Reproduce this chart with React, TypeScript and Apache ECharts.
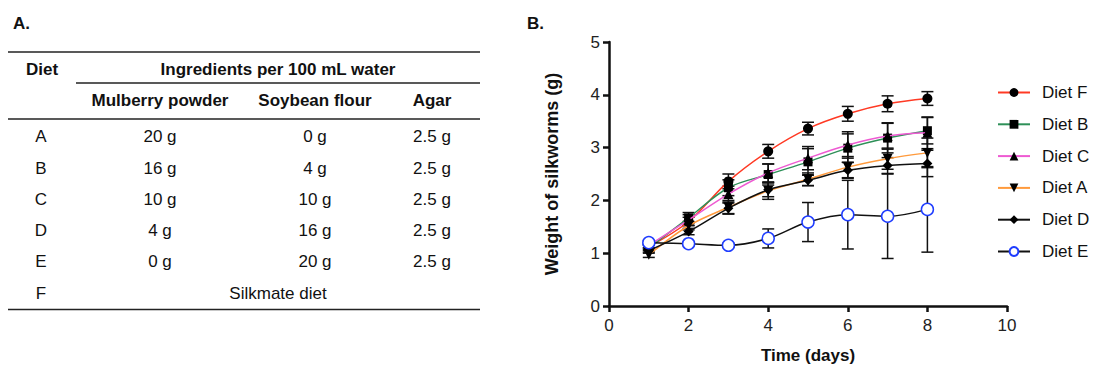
import React, { useEffect, useRef } from "react";
import * as echarts from "echarts";

// ---------- Table data (panel A) ----------
const tableDiets = ["A", "B", "C", "D", "E", "F"];
const mulberryPowder = ["20 g", "16 g", "10 g", "4 g", "0 g"];
const soybeanFlour = ["0 g", "4 g", "10 g", "16 g", "20 g"];
const agar = ["2.5 g", "2.5 g", "2.5 g", "2.5 g", "2.5 g"];
const dietFText = "Silkmate diet";
const subHeaders = ["Mulberry powder", "Soybean flour", "Agar"];

// ---------- Chart data (panel B) ----------
const days = [1, 2, 3, 4, 5, 6, 7, 8];
const xTicks = [0, 2, 4, 6, 8, 10];
const yTicks = [0, 1, 2, 3, 4, 5];

const dietF = [1.12, 1.6, 2.36, 2.93, 3.36, 3.64, 3.83, 3.93];
const errF = [0.05, 0.08, 0.14, 0.13, 0.12, 0.14, 0.15, 0.13];
const dietB = [1.1, 1.67, 2.24, 2.49, 2.73, 2.99, 3.18, 3.32];
const errB = [0.05, 0.1, 0.15, 0.2, 0.25, 0.27, 0.28, 0.25];
const dietC = [1.15, 1.63, 2.12, 2.52, 2.8, 3.05, 3.22, 3.28];
const errC = [0.05, 0.1, 0.15, 0.17, 0.22, 0.25, 0.25, 0.3];
const dietA = [0.97, 1.52, 1.87, 2.18, 2.4, 2.63, 2.79, 2.9];
const errA = [0.05, 0.08, 0.13, 0.16, 0.12, 0.2, 0.2, 0.28];
const dietD = [1.05, 1.41, 1.85, 2.2, 2.38, 2.57, 2.66, 2.7];
const errD = [0.05, 0.06, 0.1, 0.13, 0.1, 0.15, 0.15, 0.25];
const dietE = [1.2, 1.18, 1.15, 1.28, 1.59, 1.73, 1.7, 1.83];
const errE = [0.04, 0.04, 0.04, 0.18, 0.37, 0.65, 0.8, 0.81];

const seriesNames = ["Diet F", "Diet B", "Diet C", "Diet A", "Diet D", "Diet E"];
const seriesValues = [dietF, dietB, dietC, dietA, dietD, dietE];
const seriesErrors = [errF, errB, errC, errA, errD, errE];

// styles (kept separate from data)
const styles = [
  { line: "#ff3a24", symbol: "circle", size: 10, rotate: 0, fill: "#000", border: "#000", bw: 0 },
  { line: "#2e9058", symbol: "rect", size: 9, rotate: 0, fill: "#000", border: "#000", bw: 0 },
  { line: "#ee5ad2", symbol: "triangle", size: 10, rotate: 0, fill: "#000", border: "#000", bw: 0 },
  { line: "#ff9a3c", symbol: "triangle", size: 10, rotate: 180, fill: "#000", border: "#000", bw: 0 },
  { line: "#111111", symbol: "diamond", size: 10, rotate: 0, fill: "#000", border: "#000", bw: 0 },
  { line: "#111111", symbol: "circle", size: 12, rotate: 0, fill: "#ffffff", border: "#1f3dff", bw: 1.5 },
];

const FONT = "Liberation Sans, Arial, Helvetica, sans-serif";

function buildTableGraphics() {
  const els: any[] = [];
  const txt = (x: number, y: number, s: string, bold = false, align = "center") => ({
    type: "text",
    x,
    y,
    style: {
      text: s,
      fill: "#111",
      font: `${bold ? "bold " : ""}17px ${FONT}`,
      textAlign: align,
      textVerticalAlign: "middle",
    },
  });
  const hline = (x1: number, x2: number, y: number) => ({
    type: "line",
    shape: { x1, y1: y, x2, y2: y },
    style: { stroke: "#222", lineWidth: 1.6 },
  });
  els.push(txt(13, 23, "A.", true, "left"));
  els.push(txt(527, 23, "B.", true, "left"));
  els.push(hline(8, 480, 52));
  els.push(txt(42, 69, "Diet", true));
  els.push(txt(278, 69, "Ingredients per 100 mL water", true));
  els.push(hline(76, 480, 83));
  const colX = [160, 315, 432];
  subHeaders.forEach((h, i) => els.push(txt(colX[i], 100, h, true)));
  els.push(hline(8, 480, 119));
  const rowY0 = 136.7;
  const pitch = 31.3;
  tableDiets.forEach((d, i) => {
    const y = rowY0 + i * pitch;
    els.push(txt(41, y, d));
    if (i < mulberryPowder.length) {
      els.push(txt(colX[0], y, mulberryPowder[i]));
      els.push(txt(colX[1], y, soybeanFlour[i]));
      els.push(txt(colX[2], y, agar[i]));
    } else {
      els.push(txt(278, y, dietFText));
    }
  });
  els.push(hline(8, 480, 309.5));
  return els;
}

export default function App() {
  const ref = useRef<HTMLDivElement>(null);
  useEffect(() => {
    if (!ref.current) return;
    const chart = echarts.init(ref.current, undefined, { renderer: "svg" });

    const lineSeries = seriesNames.map((name, i) => ({
      name,
      type: "line",
      data: days.map((d, j) => [d, seriesValues[i][j]]),
      smooth: 0.35,
      symbol: styles[i].symbol,
      symbolSize: styles[i].size,
      symbolRotate: styles[i].rotate,
      showAllSymbol: true,
      lineStyle: { color: styles[i].line, width: 1.5 },
      itemStyle: {
        color: styles[i].fill,
        borderColor: styles[i].border,
        borderWidth: styles[i].bw,
      },
      z: 3 + i * 0.01,
      emphasis: { disabled: true },
    }));

    const errSeries = seriesNames.map((name, i) => ({
      name: name + " err",
      type: "custom",
      data: days.map((d, j) => [d, seriesValues[i][j], seriesErrors[i][j]]),
      encode: { x: 0, y: 1 },
      z: 2,
      silent: true,
      renderItem: (params: any, api: any) => {
        const x = api.value(0);
        const y = api.value(1);
        const e = api.value(2);
        const top = api.coord([x, y + e]);
        const bot = api.coord([x, y - e]);
        const hw = 6;
        const st = { stroke: "#111", lineWidth: 1.5 };
        return {
          type: "group",
          children: [
            { type: "line", shape: { x1: top[0], y1: top[1], x2: bot[0], y2: bot[1] }, style: st },
            { type: "line", shape: { x1: top[0] - hw, y1: top[1], x2: top[0] + hw, y2: top[1] }, style: st },
            { type: "line", shape: { x1: bot[0] - hw, y1: bot[1], x2: bot[0] + hw, y2: bot[1] }, style: st },
          ],
        };
      },
    }));

    const axisCommon = {
      axisLine: { show: true, lineStyle: { color: "#111", width: 2.5 } },
      axisTick: { show: true, inside: false, length: 6, lineStyle: { color: "#111", width: 2.5 } },
      splitLine: { show: false },
      axisLabel: { color: "#222", fontSize: 17, fontFamily: FONT },
      nameTextStyle: { color: "#111", fontSize: 17, fontWeight: "bold", fontFamily: FONT },
    };

    chart.setOption({
      animation: false,
      backgroundColor: "#ffffff",
      textStyle: { fontFamily: FONT },
      grid: { left: 609, top: 42, width: 398, height: 266, containLabel: false },
      xAxis: {
        type: "value",
        min: xTicks[0],
        max: xTicks[xTicks.length - 1],
        interval: 2,
        name: "Time (days)",
        nameLocation: "middle",
        nameGap: 41,
        ...axisCommon,
        axisLabel: { ...axisCommon.axisLabel, margin: 11 },
      },
      yAxis: {
        type: "value",
        min: yTicks[0],
        max: yTicks[yTicks.length - 1],
        interval: 1,
        name: "Weight of silkworms (g)",
        nameLocation: "middle",
        nameGap: 48,
        ...axisCommon,
        axisLabel: { ...axisCommon.axisLabel, margin: 9 },
        nameTextStyle: { ...axisCommon.nameTextStyle, fontSize: 18 },
      },
      legend: {
        data: seriesNames,
        orient: "vertical",
        left: 992,
        top: 79,
        padding: 5,
        itemWidth: 32,
        itemHeight: 11,
        itemGap: 14.8,
        selectedMode: false,
        textStyle: { color: "#111", fontSize: 17, fontFamily: FONT, padding: [0, 0, 0, 7] },
      },
      graphic: buildTableGraphics(),
      series: [...errSeries, ...lineSeries],
    });

    return () => chart.dispose();
  }, []);

  return (
    <div
      ref={ref}
      style={{ position: "fixed", left: 0, top: 0, width: 1094, height: 369, background: "#fff" }}
    />
  );
}
